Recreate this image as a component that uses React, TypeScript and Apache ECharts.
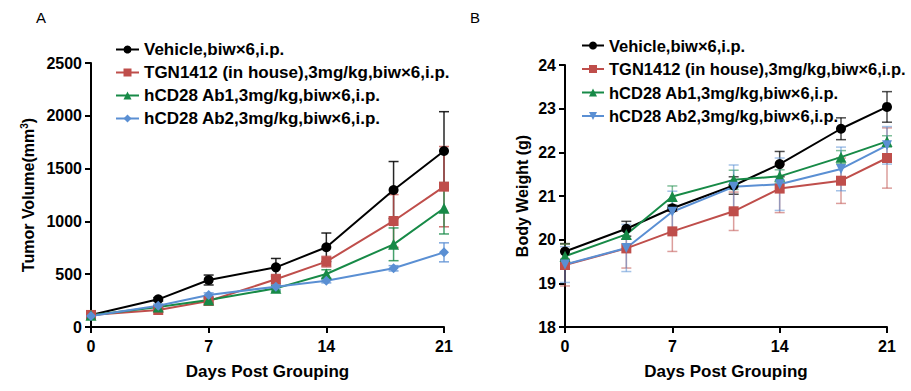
import React, { useEffect, useRef } from "react";
import * as echarts from "echarts";

const days = [0, 4, 7, 11, 14, 18, 21];
const xTicks = [0, 7, 14, 21];

const seriesNames = [
  "Vehicle,biw×6,i.p.",
  "TGN1412 (in house),3mg/kg,biw×6,i.p.",
  "hCD28 Ab1,3mg/kg,biw×6,i.p.",
  "hCD28 Ab2,3mg/kg,biw×6,i.p.",
];

// Panel A: tumor volume (mm3), mean and error
const vehicleTV = [114, 262, 445, 565, 755, 1297, 1667];
const vehicleTVErr = [10, 16, 47, 84, 135, 270, 372];
const tgnTV = [114, 161, 246, 452, 619, 1004, 1329];
const tgnTVErr = [10, 15, 25, 45, 50, 250, 380];
const ab1TV = [112, 190, 256, 366, 502, 783, 1124];
const ab1TVErr = [10, 15, 20, 25, 40, 155, 243];
const ab2TV = [104, 202, 303, 382, 438, 556, 707];
const ab2TVErr = [10, 15, 20, 25, 20, 25, 90];

// Panel B: body weight (g), mean and error
const vehicleBW = [19.73, 20.25, 20.72, 21.24, 21.73, 22.54, 23.04];
const vehicleBWErr = [0.18, 0.17, 0.07, 0.2, 0.29, 0.25, 0.35];
const tgnBW = [19.42, 19.8, 20.19, 20.65, 21.17, 21.35, 21.87];
const tgnBWErr = [0.48, 0.45, 0.46, 0.44, 0.55, 0.52, 0.69];
const ab1BW = [19.62, 20.12, 20.99, 21.37, 21.45, 21.89, 22.25];
const ab1BWErr = [0.28, 0.1, 0.24, 0.22, 0.15, 0.15, 0.13];
const ab2BW = [19.43, 19.81, 20.64, 21.21, 21.27, 21.62, 22.16];
const ab2BWErr = [0.41, 0.54, 0.47, 0.5, 0.6, 0.5, 0.43];

const colors = ["#000000", "#BF4E4B", "#178A47", "#5A8FD3"];
const FONT = 'Arial, "Liberation Sans", sans-serif';
const invTriangle = "path://M0,0 L10,0 L5,9 Z";
const symbolsA = ["circle", "rect", "triangle", "diamond"];
const symbolsB = ["circle", "rect", "triangle", invTriangle];
const symbolSizes = [10, 10, 11, 10];

function lineSeries(name: string, idx: number, vals: number[], color: string, symbol: string, size: number) {
  return {
    type: "line",
    name,
    xAxisIndex: idx,
    yAxisIndex: idx,
    data: days.map((d, i) => [d, vals[i]]),
    symbol,
    symbolSize: size,
    showSymbol: true,
    lineStyle: { color, width: 2 },
    itemStyle: { color, opacity: 1 },
    z: 3,
    silent: true,
  };
}

function errSeries(name: string, idx: number, vals: number[], errs: number[], color: string, opacity: number) {
  return {
    type: "custom",
    name: name + "#err",
    xAxisIndex: idx,
    yAxisIndex: idx,
    silent: true,
    z: 2,
    data: days.map((d, i) => [d, vals[i] - errs[i], vals[i] + errs[i]]),
    encode: { x: 0, y: [1, 2] },
    renderItem: (params: any, api: any) => {
      const lo = api.coord([api.value(0), api.value(1)]);
      const hi = api.coord([api.value(0), api.value(2)]);
      const hw = 5;
      const st = { stroke: color, lineWidth: 1.5, opacity };
      return {
        type: "group",
        children: [
          { type: "line", shape: { x1: lo[0], y1: lo[1], x2: hi[0], y2: hi[1] }, style: st },
          { type: "line", shape: { x1: lo[0] - hw, y1: lo[1], x2: lo[0] + hw, y2: lo[1] }, style: st },
          { type: "line", shape: { x1: hi[0] - hw, y1: hi[1], x2: hi[0] + hw, y2: hi[1] }, style: st },
        ],
      };
    },
  };
}

function axisCommon() {
  return {
    axisLine: { show: true, onZero: false, lineStyle: { color: "#000", width: 2 } },
    axisTick: { show: true, inside: false, length: 6, lineStyle: { color: "#000", width: 2 } },
    splitLine: { show: false },
    axisLabel: { color: "#000", fontSize: 16, fontWeight: "bold", fontFamily: FONT, formatter: (v: number) => String(v) },
    nameTextStyle: { color: "#000", fontSize: 17, fontWeight: "bold", fontFamily: FONT },
  };
}

export default function App() {
  const ref = useRef<HTMLDivElement>(null);
  useEffect(() => {
    if (!ref.current) return;
    const chart = echarts.init(ref.current, undefined, { renderer: "svg" });
    const valsA = [vehicleTV, tgnTV, ab1TV, ab2TV];
    const errsA = [vehicleTVErr, tgnTVErr, ab1TVErr, ab2TVErr];
    const valsB = [vehicleBW, tgnBW, ab1BW, ab2BW];
    const errsB = [vehicleBWErr, tgnBWErr, ab1BWErr, ab2BWErr];
    const namesB = seriesNames.map((n) => "B|" + n);

    const series: any[] = [];
    seriesNames.forEach((n, i) => series.push(errSeries(n, 0, valsA[i], errsA[i], colors[i], i === 0 ? 0.85 : 0.8)));
    namesB.forEach((n, i) => series.push(errSeries(n, 1, valsB[i], errsB[i], colors[i], i === 0 ? 0.7 : 0.55)));
    seriesNames.forEach((n, i) => series.push(lineSeries(n, 0, valsA[i], colors[i], symbolsA[i], symbolSizes[i])));
    namesB.forEach((n, i) => series.push(lineSeries(n, 1, valsB[i], colors[i], symbolsB[i], symbolSizes[i])));

    const legendTextA = { color: "#000", fontSize: 17, fontWeight: "bold", fontFamily: FONT };
    const legendTextB = { color: "#000", fontSize: 16.5, fontWeight: "bold", fontFamily: FONT };

    chart.setOption({
      animation: false,
      backgroundColor: "#fff",
      title: [
        { text: "A", left: 31, top: 5, textStyle: { fontSize: 15, fontWeight: "normal", color: "#000", fontFamily: FONT } },
        { text: "B", left: 465, top: 5, textStyle: { fontSize: 15, fontWeight: "normal", color: "#000", fontFamily: FONT } },
      ],
      legend: [
        {
          data: seriesNames,
          orient: "vertical",
          left: 110,
          top: 36,
          itemWidth: 23,
          itemHeight: 10,
          itemGap: 6,
          selectedMode: false,
          textStyle: legendTextA,
        },
        {
          data: namesB,
          orient: "vertical",
          left: 576,
          top: 32,
          itemWidth: 22,
          itemHeight: 10,
          itemGap: 6.5,
          selectedMode: false,
          formatter: (n: string) => n.replace(/^B\|/, ""),
          textStyle: legendTextB,
        },
      ],
      grid: [
        { left: 91, right: 467, top: 63, bottom: 64 },
        { left: 565, right: 24, top: 65, bottom: 64 },
      ],
      xAxis: [0, 1].map((gi) => ({
        ...axisCommon(),
        type: "value",
        gridIndex: gi,
        min: xTicks[0],
        max: xTicks[xTicks.length - 1],
        interval: 7,
        name: "Days Post Grouping",
        nameLocation: "middle",
        nameGap: 36,
        axisLabel: { ...axisCommon().axisLabel, margin: 11 },
      })),
      yAxis: [
        {
          ...axisCommon(),
          type: "value",
          gridIndex: 0,
          min: 0,
          max: 2500,
          interval: 500,
          name: "Tumor Volume(mm{sup|3})",
          nameLocation: "middle",
          nameRotate: 90,
          nameGap: 54,
          nameTextStyle: {
            color: "#000",
            fontSize: 16,
            fontWeight: "bold",
            fontFamily: FONT,
            rich: { sup: { fontSize: 10, fontWeight: "bold", fontFamily: FONT, color: "#000", verticalAlign: "top", padding: [0, 0, 8, 0] } },
          },
          axisLabel: { ...axisCommon().axisLabel, margin: 9 },
        },
        {
          ...axisCommon(),
          type: "value",
          gridIndex: 1,
          min: 18,
          max: 24,
          interval: 1,
          name: "Body Weight (g)",
          nameLocation: "middle",
          nameRotate: 90,
          nameGap: 35,
          nameTextStyle: { color: "#000", fontSize: 16, fontWeight: "bold", fontFamily: FONT },
          axisLabel: { ...axisCommon().axisLabel, margin: 9 },
        },
      ],
      series,
    });
    return () => chart.dispose();
  }, []);
  return <div ref={ref} style={{ position: "fixed", left: 0, top: 0, width: 911, height: 391 }} />;
}
